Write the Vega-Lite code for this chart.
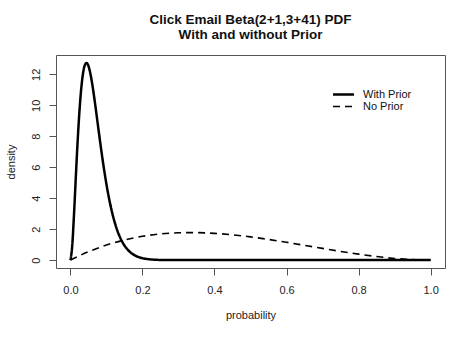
{
  "$schema": "https://vega.github.io/schema/vega-lite/v6.json",
  "width": 389,
  "height": 213,
  "autosize": "none",
  "padding": {"left": 56, "top": 55, "right": 29, "bottom": 70},
  "background": "white",
  "config": {
    "font": "Liberation Sans",
    "view": {"stroke": "#555", "strokeWidth": 1}
  },
  "title": {
    "text": ["Click Email Beta(2+1,3+41) PDF", "With and without Prior"],
    "fontSize": 13.5,
    "fontWeight": "bold",
    "lineHeight": 15,
    "offset": 14,
    "color": "#111",
    "anchor": "middle"
  },
  "data": {
    "values": [
      {"p": 0.0, "density": 0.0, "prior": "With Prior"},
      {"p": 0.005, "density": 0.918, "prior": "With Prior"},
      {"p": 0.01, "density": 2.956, "prior": "With Prior"},
      {"p": 0.015, "density": 5.350, "prior": "With Prior"},
      {"p": 0.02, "density": 7.642, "prior": "With Prior"},
      {"p": 0.025, "density": 9.583, "prior": "With Prior"},
      {"p": 0.03, "density": 11.062, "prior": "With Prior"},
      {"p": 0.035, "density": 12.057, "prior": "With Prior"},
      {"p": 0.04, "density": 12.594, "prior": "With Prior"},
      {"p": 0.045, "density": 12.734, "prior": "With Prior"},
      {"p": 0.05, "density": 12.546, "prior": "With Prior"},
      {"p": 0.055, "density": 12.098, "prior": "With Prior"},
      {"p": 0.06, "density": 11.461, "prior": "With Prior"},
      {"p": 0.065, "density": 10.692, "prior": "With Prior"},
      {"p": 0.07, "density": 9.846, "prior": "With Prior"},
      {"p": 0.075, "density": 8.964, "prior": "With Prior"},
      {"p": 0.08, "density": 8.080, "prior": "With Prior"},
      {"p": 0.085, "density": 7.217, "prior": "With Prior"},
      {"p": 0.09, "density": 6.393, "prior": "With Prior"},
      {"p": 0.095, "density": 5.620, "prior": "With Prior"},
      {"p": 0.1, "density": 4.907, "prior": "With Prior"},
      {"p": 0.11, "density": 3.671, "prior": "With Prior"},
      {"p": 0.12, "density": 2.689, "prior": "With Prior"},
      {"p": 0.13, "density": 1.930, "prior": "With Prior"},
      {"p": 0.14, "density": 1.361, "prior": "With Prior"},
      {"p": 0.15, "density": 0.945, "prior": "With Prior"},
      {"p": 0.16, "density": 0.646, "prior": "With Prior"},
      {"p": 0.17, "density": 0.436, "prior": "With Prior"},
      {"p": 0.18, "density": 0.290, "prior": "With Prior"},
      {"p": 0.19, "density": 0.191, "prior": "With Prior"},
      {"p": 0.2, "density": 0.124, "prior": "With Prior"},
      {"p": 0.22, "density": 0.0505, "prior": "With Prior"},
      {"p": 0.25, "density": 0.0121, "prior": "With Prior"},
      {"p": 0.3, "density": 0.0009, "prior": "With Prior"},
      {"p": 0.35, "density": 0.0, "prior": "With Prior"},
      {"p": 0.5, "density": 0.0, "prior": "With Prior"},
      {"p": 0.75, "density": 0.0, "prior": "With Prior"},
      {"p": 1.0, "density": 0.0, "prior": "With Prior"},
      {"p": 0.0, "density": 0.0, "prior": "No Prior"},
      {"p": 0.05, "density": 0.5415, "prior": "No Prior"},
      {"p": 0.1, "density": 0.972, "prior": "No Prior"},
      {"p": 0.15, "density": 1.3005, "prior": "No Prior"},
      {"p": 0.2, "density": 1.536, "prior": "No Prior"},
      {"p": 0.25, "density": 1.6875, "prior": "No Prior"},
      {"p": 0.3, "density": 1.764, "prior": "No Prior"},
      {"p": 0.3333, "density": 1.7778, "prior": "No Prior"},
      {"p": 0.35, "density": 1.7745, "prior": "No Prior"},
      {"p": 0.4, "density": 1.728, "prior": "No Prior"},
      {"p": 0.45, "density": 1.6335, "prior": "No Prior"},
      {"p": 0.5, "density": 1.5, "prior": "No Prior"},
      {"p": 0.55, "density": 1.3365, "prior": "No Prior"},
      {"p": 0.6, "density": 1.152, "prior": "No Prior"},
      {"p": 0.65, "density": 0.9555, "prior": "No Prior"},
      {"p": 0.7, "density": 0.756, "prior": "No Prior"},
      {"p": 0.75, "density": 0.5625, "prior": "No Prior"},
      {"p": 0.8, "density": 0.384, "prior": "No Prior"},
      {"p": 0.85, "density": 0.2295, "prior": "No Prior"},
      {"p": 0.9, "density": 0.108, "prior": "No Prior"},
      {"p": 0.95, "density": 0.0285, "prior": "No Prior"},
      {"p": 1.0, "density": 0.0, "prior": "No Prior"}
    ]
  },
  "mark": {"type": "line", "color": "black", "interpolate": "monotone"},
  "encoding": {
    "x": {
      "field": "p",
      "type": "quantitative",
      "scale": {"domain": [-0.04, 1.04], "nice": false, "zero": false},
      "axis": {
        "values": [0, 0.2, 0.4, 0.6, 0.8, 1.0],
        "format": ".1f",
        "grid": false,
        "domain": false,
        "tickColor": "#555",
        "tickSize": 7,
        "labelFontSize": 11,
        "labelPadding": 9,
        "labelColor": "#222",
        "title": "probability",
        "titleFontSize": 11,
        "titleFontWeight": "normal",
        "titleColor": "#222",
        "titlePadding": 14
      }
    },
    "y": {
      "field": "density",
      "type": "quantitative",
      "scale": {"domain": [-0.51, 13.25], "nice": false, "zero": false},
      "axis": {
        "values": [0, 2, 4, 6, 8, 10, 12],
        "grid": false,
        "domain": false,
        "tickColor": "#555",
        "tickSize": 7,
        "labelFontSize": 11,
        "labelAngle": 270,
        "labelAlign": "center",
        "labelBaseline": "bottom",
        "labelPadding": 8,
        "labelColor": "#222",
        "title": "density",
        "titleFontSize": 11,
        "titleFontWeight": "normal",
        "titleColor": "#222",
        "titlePadding": 14
      }
    },
    "strokeDash": {
      "field": "prior",
      "type": "nominal",
      "scale": {"domain": ["With Prior", "No Prior"], "range": [[1, 0], [7, 5]]},
      "legend": {
        "orient": "none",
        "legendX": 281,
        "legendY": 33,
        "title": null,
        "symbolType": "M-2,0H2",
        "symbolSize": 110,
        "symbolStrokeWidth": 2,
        "symbolStrokeColor": "black",
        "labelFontSize": 11,
        "labelOffset": 13,
        "labelColor": "#111",
        "padding": 0,
        "rowPadding": 0
      }
    },
    "strokeWidth": {
      "field": "prior",
      "type": "nominal",
      "scale": {"domain": ["With Prior", "No Prior"], "range": [2.5, 1.6]},
      "legend": null
    }
  }
}
